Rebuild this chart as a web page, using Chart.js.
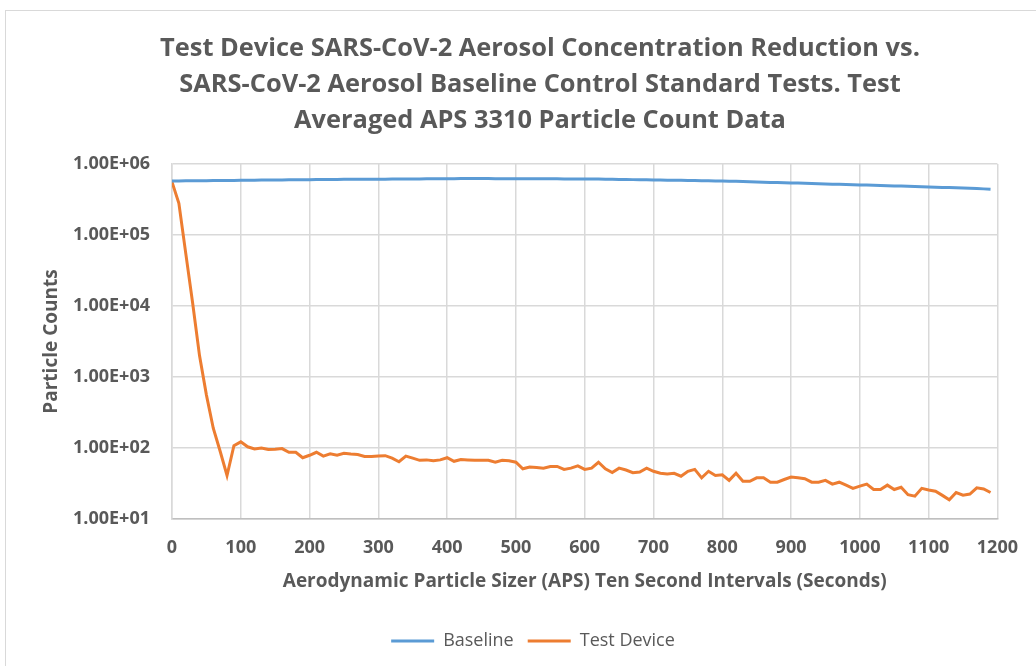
<!DOCTYPE html>
<html>
<head>
<meta charset="utf-8">
<script src="https://cdn.jsdelivr.net/npm/chart.js"></script>
<style>
  html, body { margin: 0; padding: 0; background: #fff; }
  #wrap { position: relative; width: 1036px; height: 666px; overflow: hidden; }
  #frame { position: absolute; left: 5px; top: 10px; width: 1100px; height: 700px; border: 1px solid #d9d9d9; box-sizing: border-box; }
  canvas { position: absolute; left: 0; top: 0; }
</style>
</head>
<body>
<div id="wrap">
  <div id="frame"></div>
  <canvas id="apsChart" width="1036" height="666"></canvas>
</div>
<script>
  //DATA
  const seconds = [
    0, 10, 20, 30, 40, 50, 60, 70, 80, 90,
    100, 110, 120, 130, 140, 150, 160, 170, 180, 190,
    200, 210, 220, 230, 240, 250, 260, 270, 280, 290,
    300, 310, 320, 330, 340, 350, 360, 370, 380, 390,
    400, 410, 420, 430, 440, 450, 460, 470, 480, 490,
    500, 510, 520, 530, 540, 550, 560, 570, 580, 590,
    600, 610, 620, 630, 640, 650, 660, 670, 680, 690,
    700, 710, 720, 730, 740, 750, 760, 770, 780, 790,
    800, 810, 820, 830, 840, 850, 860, 870, 880, 890,
    900, 910, 920, 930, 940, 950, 960, 970, 980, 990,
    1000, 1010, 1020, 1030, 1040, 1050, 1060, 1070, 1080, 1090,
    1100, 1110, 1120, 1130, 1140, 1150, 1160, 1170, 1180, 1190
  ];

  const baseline = [
    577000, 578000, 579000, 580000, 581000, 582000, 583000, 584000, 585000, 587000,
    590000, 591000, 592000, 593000, 594000, 595000, 597000, 598000, 600000, 601000,
    602000, 603000, 604000, 605000, 606000, 607000, 607000, 608000, 609000, 609000,
    610000, 611000, 612000, 613000, 614000, 615000, 616000, 617000, 618000, 620000,
    621000, 621000, 622000, 622000, 622000, 622000, 622000, 621000, 621000, 620000,
    620000, 619000, 619000, 618000, 618000, 617000, 617000, 616000, 616000, 616000,
    615000, 614000, 612000, 610000, 608000, 606000, 604000, 602000, 600000, 598000,
    596000, 594000, 592000, 590000, 588000, 586000, 584000, 582000, 580000, 578000,
    576000, 572000, 569000, 565000, 562000, 558000, 554000, 550000, 547000, 544000,
    541000, 538000, 534000, 531000, 527000, 524000, 520000, 517000, 513000, 510000,
    507000, 504000, 501000, 498000, 494000, 491000, 488000, 484000, 481000, 478000,
    475000, 472000, 468000, 465000, 461000, 458000, 454000, 450000, 446000, 441000
  ];

  const testDevice = [
    560000, 280000, 55000, 11000, 2000, 560, 190, 90, 41, 108,
    122, 104, 97, 100, 95, 96, 98, 87, 87, 73,
    79, 87, 77, 83, 79, 84, 82, 81, 76, 76,
    77, 78, 72, 64, 77, 72, 67, 68, 66, 68,
    73, 65, 69, 68, 67, 67, 67, 63, 67, 66,
    63, 51, 54, 53, 52, 55, 55, 50, 52, 56,
    50, 52, 63, 51, 45, 52, 49, 45, 46, 52,
    47, 44, 43, 44, 40, 47, 50, 38, 47, 41,
    42, 35, 44, 34, 34, 38, 38, 33, 33, 36,
    39, 38, 37, 33, 33, 35, 31, 33, 30, 27,
    29, 31, 26, 26, 30, 26, 28, 22, 21, 27,
    25.6, 24.6, 21.5, 18.6, 23.6, 21.7, 22.5, 27.5, 26.5, 23.6
  ];

  const seriesNames = ['Baseline', 'Test Device'];
  const seriesColors = ['#5B9BD5', '#ED7D31'];

  const yTicks = [10, 100, 1000, 10000, 100000, 1000000];
  const yTickLabels = ['1.00E+01', '1.00E+02', '1.00E+03', '1.00E+04', '1.00E+05', '1.00E+06'];

  const titleLines = [
    'Test Device SARS-CoV-2 Aerosol Concentration Reduction vs.',
    'SARS-CoV-2 Aerosol Baseline Control Standard Tests. Test',
    'Averaged APS 3310 Particle Count Data'
  ];
  const xTitle = 'Aerodynamic Particle Sizer (APS) Ten Second Intervals (Seconds)';
  const yTitle = 'Particle Counts';

  const textGrey = '#595959';
  const gridGrey = '#d9d9d9';
  const fontFam = "'Open Sans', sans-serif";

  /* build xy points for the linear x axis */
  const toPoints = (vals) => vals.map((v, i) => ({ x: seconds[i], y: v }));

  /* Excel centres title and legend on the whole frame, not the padded box */
  const boxShift = {
    id: 'boxShift',
    afterLayout(chart) {
      chart.legend.left += 8;
      chart.legend.right += 8;
      chart.titleBlock.left += 15;
      chart.titleBlock.right += 15;
    }
  };

  const config = {
    type: 'line',
    data: {
      datasets: [
        {
          label: seriesNames[0],
          data: toPoints(baseline),
          borderColor: seriesColors[0],
          backgroundColor: seriesColors[0],
          borderWidth: 3,
          pointRadius: 0,
          tension: 0
        },
        {
          label: seriesNames[1],
          data: toPoints(testDevice),
          borderColor: seriesColors[1],
          backgroundColor: seriesColors[1],
          borderWidth: 3,
          pointRadius: 0,
          tension: 0
        }
      ]
    },
    options: {
      responsive: false,
      animation: false,
      devicePixelRatio: 1,
      layout: {
        padding: { left: 40, right: 26, top: 10, bottom: 6 }
      },
      scales: {
        x: {
          type: 'linear',
          min: 0,
          max: 1200,
          afterFit: (scale) => { scale.height = 99; },
          ticks: {
            stepSize: 100,
            color: textGrey,
            padding: 18,
            font: { family: fontFam, size: 18, weight: 'bold' },
            callback: (value) => String(value)
          },
          grid: { color: gridGrey, lineWidth: 1.5, drawTicks: false },
          border: { color: '#bfbfbf', width: 1.5 },
          title: {
            display: true,
            text: xTitle,
            color: textGrey,
            padding: { top: 0, bottom: 25 },
            font: { family: fontFam, size: 19, weight: 'bold' }
          }
        },
        y: {
          type: 'logarithmic',
          min: 10,
          max: 1000000,
          afterFit: (scale) => { scale.width = 132; },
          afterBuildTicks: (scale) => {
            scale.ticks = yTicks.map((v) => ({ value: v }));
          },
          ticks: {
            color: textGrey,
            padding: 22,
            font: { family: fontFam, size: 18, weight: 'bold' },
            callback: (value) => {
              const idx = yTicks.indexOf(value);
              return idx >= 0 ? yTickLabels[idx] : '';
            }
          },
          grid: { color: gridGrey, lineWidth: 1.5, drawTicks: false },
          border: { color: gridGrey, width: 1.5 },
          title: {
            display: true,
            text: yTitle,
            color: textGrey,
            padding: { top: 0, bottom: 0 },
            font: { family: fontFam, size: 19, weight: 'bold' }
          }
        }
      },
      plugins: {
        tooltip: { enabled: false },
        title: {
          display: true,
          text: titleLines,
          color: textGrey,
          padding: { top: 21, bottom: 25 },
          font: { family: fontFam, size: 25.4, weight: 'bold', lineHeight: 1.417 }
        },
        legend: {
          position: 'bottom',
          labels: {
            usePointStyle: true,
            pointStyle: 'line',
            pointStyleWidth: 43,
            padding: 14,
            color: textGrey,
            font: { family: fontFam, size: 18 }
          }
        }
      }
    },
    plugins: [boxShift]
  };

  const apsChart = new Chart(document.getElementById('apsChart'), config);
</script>
</body>
</html>
